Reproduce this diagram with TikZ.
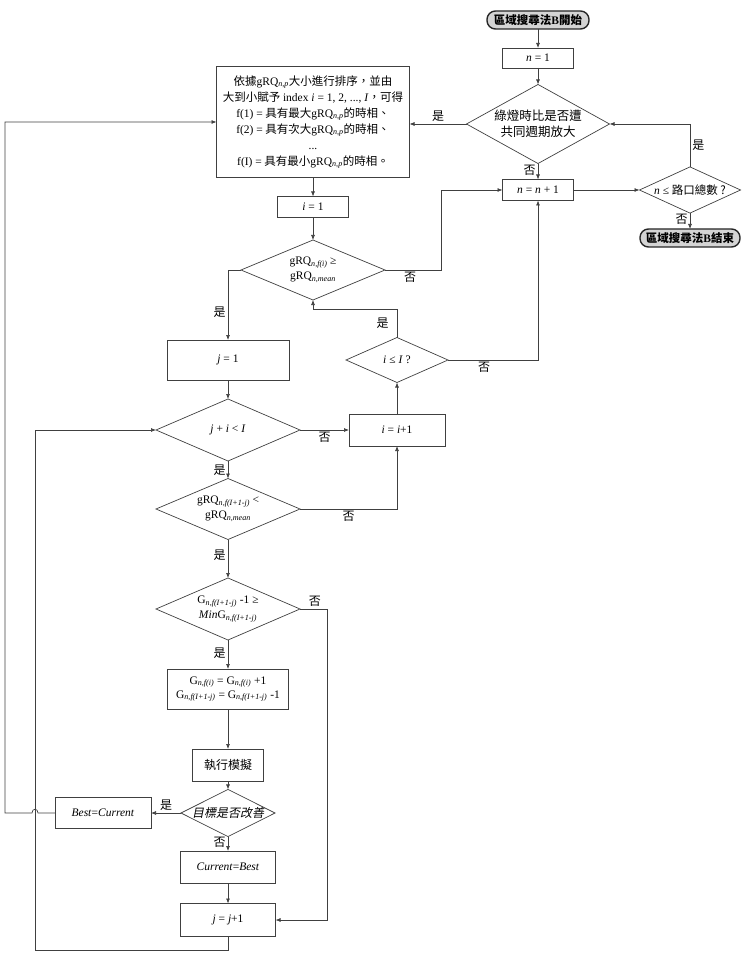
\documentclass[tikz,border=0pt]{standalone}
\usepackage{fontspec}
\setmainfont{Noto Sans CJK TC}
\newfontfamily\tm{Liberation Serif}
\newfontfamily\zhit[FakeSlant=0.2]{Noto Sans CJK TC}
\usetikzlibrary{positioning,arrows.meta,shapes.geometric}
\definecolor{lineCol}{RGB}{64,64,64}
\definecolor{termFill}{RGB}{212,212,212}
\newcommand{\gq}[1]{{\tm gRQ\textsubscript{\textit{#1}}}}
\newcommand{\lat}[1]{{\tm #1}}
\tikzset{
  proc/.style={rectangle, draw=lineCol, line width=0.7pt, outer sep=0pt, inner sep=2pt,
               align=center, font=\fontsize{11.5}{15}\selectfont},
  dec/.style={diamond, draw=lineCol, line width=0.7pt, outer sep=0pt, inner sep=-9pt,
              align=center, font=\fontsize{11.5}{15}\selectfont},
  term/.style={rectangle, rounded corners=8.5pt, draw=black!85, line width=1.4pt, fill=termFill,
               outer sep=0pt, inner sep=1pt, font=\fontsize{11.5}{13}\selectfont\bfseries},
  flow/.style={-{Latex[length=5pt,width=4pt]}, draw=lineCol, line width=0.7pt},
  lbl/.style={font=\fontsize{12}{13}\selectfont, inner sep=2pt},
}

\begin{document}
\begin{tikzpicture}[x=1pt, y=-1pt]
  \useasboundingbox (0,0) rectangle (741,957);
  % outer loop over n
  \node[term, minimum width=102pt, minimum height=18pt] (start) at (538,20) {區域搜尋法\lat{B}開始};
  \node[proc, minimum width=71pt, minimum height=20pt] (n1) at (538,58) {\lat{\textit{n} = 1}};
  \node[dec, minimum width=143pt, minimum height=61pt, font=\fontsize{12.5}{16}\selectfont] (d1) at (538,124) {綠燈時比是否遭\\共同週期放大};
  \node[proc, minimum width=71pt, minimum height=21pt] (nn) at (538,190) {\lat{\textit{n} = \textit{n} + 1}};
  \node[dec, minimum width=101pt, minimum height=44pt] (dn) at (690,190) {\lat{\textit{n} ≤} 路口總數 ?};
  \node[term, minimum width=100pt, minimum height=18pt] (stop) at (690,238) {區域搜尋法\lat{B}結束};
  % sorting and inner loops
  \node[proc, minimum width=193pt, minimum height=111pt, font=\fontsize{11.5}{16}\selectfont] (sortbox) at (313,122)
    {依據\gq{n,p}大小進行排序，並由\\大到小賦予 \lat{index \textit{i} = 1, 2, ..., \textit{I}}，可得\\
     \lat{f(1) =} 具有最大\gq{n,p}的時相、\\\lat{f(2) =} 具有次大\gq{n,p}的時相、\\\lat{...}\\
     \lat{f(I) =} 具有最小\gq{n,p}的時相。};
  \node[proc, minimum width=71pt, minimum height=21pt] (i1) at (313,207) {\lat{\textit{i} = 1}};
  \node[dec, minimum width=144pt, minimum height=60pt] (dg1) at (313,270) {\gq{n,f(i)} \lat{≥}\\\gq{n,mean}};
  \node[proc, minimum width=122pt, minimum height=40pt] (j1) at (228,360) {\lat{\textit{j} = 1}};
  \node[dec, minimum width=144pt, minimum height=62pt] (dji) at (228,430) {\lat{\textit{j} + \textit{i} < \textit{I}}};
  \node[proc, minimum width=96pt, minimum height=32pt] (ii) at (397,430) {\lat{\textit{i} = \textit{i}+1}};
  \node[dec, minimum width=102pt, minimum height=45pt] (dil) at (397,360) {\lat{\textit{i} ≤ \textit{I} ?}};
  \node[dec, minimum width=144pt, minimum height=61pt] (dg2) at (228,509) {\gq{n,f(I+1-j)} \lat{<}\\\gq{n,mean}};
  \node[dec, minimum width=144pt, minimum height=62pt] (dG) at (228,609)
    {\lat{G\textsubscript{\textit{n,f(I+1-j)}} -1 ≥}\\\lat{\textit{Min}G\textsubscript{\textit{n,f(I+1-j)}}}};
  \node[proc, minimum width=121pt, minimum height=40pt, font=\fontsize{11.5}{14}\selectfont] (gb) at (228,689)
    {\lat{G\textsubscript{\textit{n,f(i)}} = G\textsubscript{\textit{n,f(i)}} +1}\\
     \lat{G\textsubscript{\textit{n,f(I+1-j)}} = G\textsubscript{\textit{n,f(I+1-j)}} -1}};
  \node[proc, minimum width=71pt, minimum height=32pt, font=\fontsize{12}{14}\selectfont] (sim) at (228,765) {執行模擬};
  \node[dec, minimum width=94pt, minimum height=31pt, font=\fontsize{12}{13}\zhit] (dimp) at (228,813) {目標是否改善};
  \node[proc, minimum width=96pt, minimum height=31pt] (best) at (103,813) {\lat{\textit{Best}=\textit{Current}}};
  \node[proc, minimum width=95pt, minimum height=32pt] (cur) at (228,867) {\lat{\textit{Current}=\textit{Best}}};
  \node[proc, minimum width=95pt, minimum height=33pt] (jj) at (228,920) {\lat{\textit{j} = \textit{j}+1}};

  % connectors
  \draw[flow] (start) -- (n1);
  \draw[flow] (n1) -- (d1);
  \draw[flow] (d1) -- node[lbl, left, pos=0.45] {否} (nn);
  \draw[flow] (nn) -- (dn);
  \draw[flow] (dn.north) |- node[lbl, right, pos=0.25] {是} (d1.east);
  \draw[flow] (dn) -- node[lbl, left, pos=0.4] {否} (stop);
  \draw[flow] (d1.west) -- node[lbl, above] {是} (d1.west -| sortbox.east);
  \draw[flow] (sortbox) -- (i1);
  \draw[flow] (i1) -- (dg1);
  \draw[flow] (dg1.east) -- node[lbl, below, pos=0.45] {否} (441,270) |- (nn.west);
  \draw[flow] (dg1.west) -| node[lbl, left, pos=0.8] {是} (j1.north);
  \draw[flow] (j1) -- (dji);
  \draw[flow] (dji) -- node[lbl, below] {否} (ii);
  \draw[flow] (ii) -- (dil);
  \draw[flow] (dil.east) -| node[lbl, below, pos=0.2] {否} (nn.south);
  \draw[flow] (dil.north) -- node[lbl, left, xshift=-6pt] {是} ++(0,-28) -| (dg1.south);
  \draw[flow] (dji) -- node[lbl, left] {是} (dg2);
  \draw[flow] (dg2.east) -| node[lbl, below, pos=0.25] {否} (ii.south);
  \draw[flow] (dg2) -- node[lbl, left, pos=0.4] {是} (dG);
  \draw[flow] (dG.east) -- node[lbl, above, pos=0.55] {否} (327,609) |- (jj.east);
  \draw[flow] (dG) -- node[lbl, left, pos=0.45] {是} (gb);
  \draw[flow] (gb) -- (sim);
  \draw[flow] (sim) -- (dimp);
  \draw[flow] (dimp) -- node[lbl, above] {是} (best);
  \draw[flow] (dimp) -- node[lbl, left, pos=0.4] {否} (cur);
  \draw[flow] (cur) -- (jj);
  \draw[flow] (jj.south) -- (228,950) -- (35,950) |- (dji.west);
  \draw[flow] (best.west) -- (38,813) .. controls (38,808) and (32,808) .. (32,813) -- (5,813) |- (sortbox.west);
\end{tikzpicture}
\end{document}
